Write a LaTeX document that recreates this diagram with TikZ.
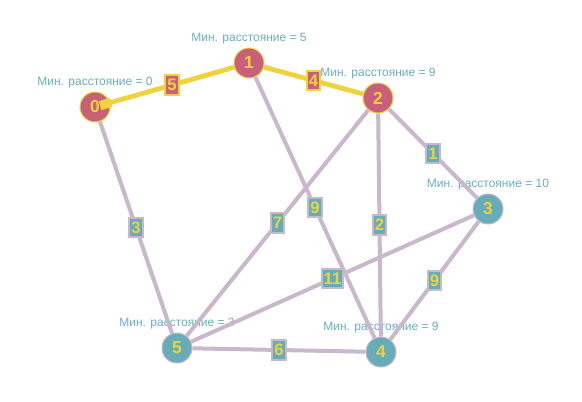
\documentclass[tikz,border=0pt]{standalone}
\usepackage{fontspec}
\setmainfont{Liberation Sans}
\usetikzlibrary{calc}
\definecolor{vdone}{HTML}{C8607A}
\definecolor{vwait}{HTML}{67ACB9}
\definecolor{elin}{HTML}{C9B7CB}
\definecolor{gold}{HTML}{EFD33C}
\definecolor{ltxt}{HTML}{6AAFBD}

\begin{document}
\begin{tikzpicture}[x=0.75pt,y=-0.75pt,
    vert/.style={circle,minimum size=22.5pt,inner sep=0pt,text=gold,
      font=\bfseries\fontsize{13}{13}\selectfont,line width=0.75pt},
    done/.style={vert,fill=vdone,draw=gold},
    wait/.style={vert,fill=vwait,draw=elin},
    dist/.style={text=ltxt,font=\fontsize{9}{9}\selectfont,label distance=-1pt},
    edge/.style={draw=elin,line width=3pt},
    cedge/.style={draw=gold,line width=3.6pt},
    wlab/.style={fill=vwait,draw=elin,line width=1.4pt,text=gold,inner sep=1pt,
      font=\bfseries\fontsize{12.5}{12.5}\selectfont,minimum height=14.5pt,minimum width=10pt},
    clab/.style={wlab,fill=vdone,draw=gold}]
  \useasboundingbox (0,0) rectangle (582,401);
  \node[done,label={[dist]above:Мин. расстояние = 0}] (n0) at (95,107) {0};
  \node[done,label={[dist]above:Мин. расстояние = 5}] (n1) at (249,63) {1};
  \node[done,label={[dist]above:Мин. расстояние = 9}] (n2) at (378,98) {2};
  \node[wait,label={[dist]above:Мин. расстояние = 10}] (n3) at (488,209) {3};
  \node[wait,label={[dist]above:Мин. расстояние = 9}] (n4) at (381,352) {4};
  \node[wait,label={[dist]above:Мин. расстояние = 3}] (n5) at (177,348) {5};
  \foreach \a/\b/\w in {0/5/3, 5/2/7, 1/4/9, 2/4/2, 2/3/1, 3/4/9, 5/4/6, 5/3/11}
    \draw[edge] (n\a) -- node[wlab] {\w} (n\b);
  \draw[cedge] (n0) -- node[clab] {5} (n1);
  \draw[cedge] (n1) -- node[clab] {4} (n2);
  \draw[gold,line width=7pt] ($(n0)!4pt!(n1)$) -- ($(n0)!12.5pt!(n1)$);
\end{tikzpicture}
\end{document}
